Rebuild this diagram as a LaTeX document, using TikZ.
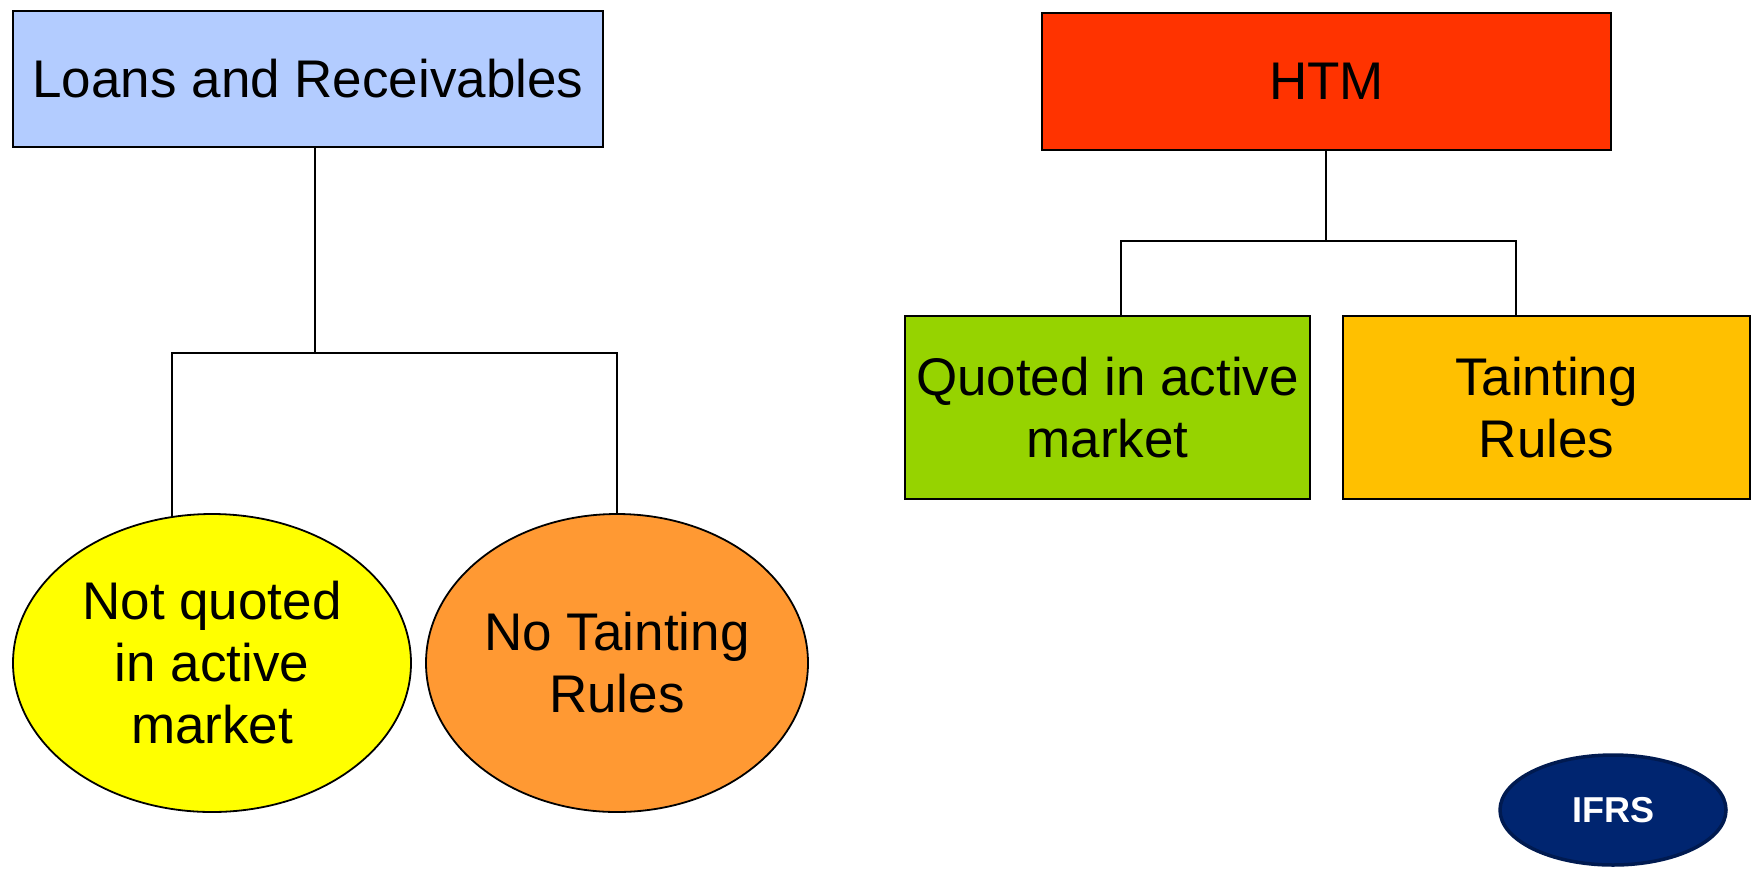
\documentclass[tikz,border=0pt]{standalone}
\usepackage{fontspec}
\setmainfont{Liberation Sans}
\usetikzlibrary{shapes.geometric}
\definecolor{lrblue}{HTML}{B3CCFF}
\definecolor{htmred}{HTML}{FF3300}
\definecolor{qgreen}{HTML}{96D300}
\definecolor{tamber}{HTML}{FFC000}
\definecolor{nyellow}{HTML}{FFFF00}
\definecolor{norange}{HTML}{FF9933}
\definecolor{navyfill}{HTML}{002570}
\definecolor{navyedge}{HTML}{001A50}
\tikzset{
  bigtext/.style={font=\fontsize{53}{62}\selectfont, text=black},
  box/.style={draw=black, line width=2pt, rectangle, inner sep=0pt, bigtext, align=center},
  oval/.style={draw=black, line width=1.8pt, ellipse, inner sep=0pt, bigtext, align=center},
  link/.style={draw=black, line width=2pt},
  linkb/.style={draw=black, line width=2.6pt},
}
\begin{document}
\begin{tikzpicture}[x=1pt, y=-1pt]
\useasboundingbox (0,0) rectangle (1752,868);
% left tree
\node[box, fill=lrblue, minimum width=590pt, minimum height=136pt] (lr) at (308,79) {Loans and Receivables};
\node[oval, fill=nyellow, minimum width=398pt, minimum height=298pt] (nq) at (212,663) {Not quoted\\in active\\market};
\node[oval, fill=norange, minimum width=382pt, minimum height=298pt] (nt) at (617,663) {No Tainting\\Rules};
\coordinate (lbus) at (315,353);
\draw[link] (lr.south -| lbus) -- (lbus);
\draw[link] ([xshift=-40pt, yshift=-3.5pt]nq.north) |- (lbus) -| (nt.north);
% right tree
\node[box, fill=htmred, minimum width=569pt, minimum height=137pt] (htm) at (1326.5,81.5) {HTM};
\node[box, fill=qgreen, minimum width=405pt, minimum height=183pt] (qa) at (1107.5,407.5) {Quoted in active\\market};
\node[box, fill=tamber, minimum width=407pt, minimum height=183pt] (tr) at (1546.5,407.5) {Tainting\\Rules};
\coordinate (hbus) at (1326,241);
\draw[linkb] (htm.south -| hbus) -- (hbus);
\draw[linkb] ([xshift=13.5pt]qa.north) |- (hbus) -| ([xshift=-30.5pt]tr.north);
% badge
\node[ellipse, draw=navyedge, line width=3.5pt, fill=navyfill, minimum width=226pt, minimum height=110pt, inner sep=0pt,
      text=white, font=\fontsize{36}{40}\selectfont\bfseries] (ifrs) at (1613,810) {IFRS};
\end{tikzpicture}
\end{document}
